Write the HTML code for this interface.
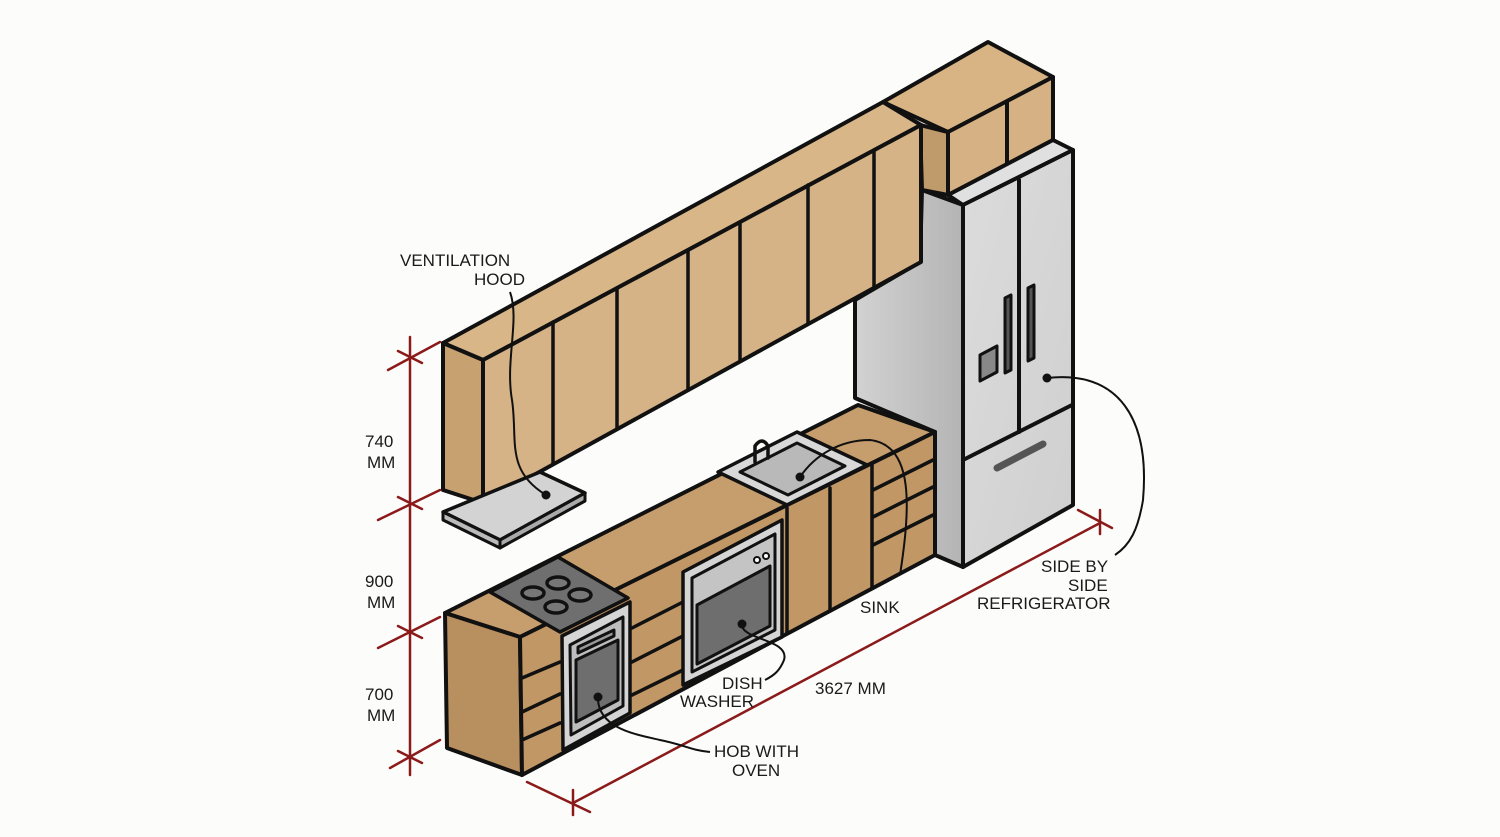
<!DOCTYPE html>
<html><head><meta charset="utf-8"><style>
html,body{margin:0;padding:0;background:#fcfcfa;}
svg{display:block}
text{font-family:"Liberation Sans",sans-serif;font-size:17px;fill:#1a1a1a;}
</style></head><body>
<svg width="1500" height="837" viewBox="0 0 1500 837" xmlns="http://www.w3.org/2000/svg">
<rect width="1500" height="837" fill="#fcfcfa"/>
<defs>
<linearGradient id="gs" x1="0" y1="0" x2="1" y2="0"><stop offset="0" stop-color="#d2d2d2"/><stop offset="1" stop-color="#b4b4b4"/></linearGradient>
<linearGradient id="gf" x1="0" y1="0" x2="1" y2="1"><stop offset="0" stop-color="#dcdcdc"/><stop offset="1" stop-color="#cfcfcf"/></linearGradient>
</defs>
<g stroke="#111" stroke-width="4" stroke-linejoin="round" stroke-linecap="round">
<polygon points="855,300 920,262 922,190 963,205 963,567 935,555 935,432 855,398" fill="url(#gs)"/>
<polygon points="883,102 988,42 1053,77 948,132" fill="#d8b485"/>
<polygon points="920,125 948,132 948,195 922,190" fill="#bf9a6a"/>
<polygon points="948,132 1053,77 1053,140 948,195" fill="#d6b184"/>
<line x1="1007" y1="102" x2="1007" y2="165"/>
<polygon points="948,195 1053,140 1073,150 963,205" fill="#e0e0e0"/>
<polygon points="963,205 1073,150 1073,505 963,567" fill="url(#gf)"/>
<line x1="1019" y1="180" x2="1019" y2="432"/>
<line x1="963" y1="460" x2="1072" y2="405"/>
<path d="M1005,298 L1011,295 L1011,370 L1005,373 Z" fill="#555" stroke-width="3"/>
<path d="M1028,288 L1034,285 L1034,358 L1028,361 Z" fill="#555" stroke-width="3"/>
<path d="M980,355 L997,346 L997,372 L980,381 Z" fill="#888" stroke-width="3"/>
<path d="M997,468 L1043,444" stroke="#555" stroke-width="7"/>
<polygon points="443,343 883,102 921,125 483,360" fill="#d9b688"/>
<polygon points="443,343 483,360 483,503 443,490" fill="#c8a170"/>
<polygon points="483,360 921,125 921,262 483,503" fill="#d6b386"/>
<g stroke-width="3.5">
<line x1="553" y1="322" x2="553" y2="464"/>
<line x1="617" y1="288" x2="617" y2="429"/>
<line x1="688" y1="250" x2="688" y2="390"/>
<line x1="740" y1="222" x2="740" y2="361"/>
<line x1="808" y1="185" x2="808" y2="324"/>
<line x1="874" y1="150" x2="874" y2="288"/>
</g>
<polygon points="443,512 540,472 585,493 500,540" fill="#d3d3d3" stroke-width="3.5"/>
<polygon points="443,512 500,540 500,548 443,520" fill="#bbb" stroke-width="3"/>
<polygon points="500,540 585,493 585,501 500,548" fill="#aaa" stroke-width="3"/>
<polygon points="445,613 858,405 935,432 520,637" fill="#c69d6d"/>
<polygon points="445,613 520,637 522,775 447,748" fill="#b88f5f"/>
<polygon points="520,637 935,432 935,555 522,775" fill="#c29766"/>
<polygon points="490,592 558,557 628,598 560,632" fill="#6f6f6f" stroke-width="3.5"/>
<g fill="#777" stroke-width="3.5"><ellipse cx="558" cy="583" rx="11" ry="6"/><ellipse cx="580" cy="595" rx="11" ry="6"/><ellipse cx="556" cy="607" rx="11" ry="6"/><ellipse cx="533" cy="593" rx="11" ry="6"/></g>
<polygon points="562,636 630,602 630,713 563,750" fill="#d5d5d5" stroke-width="3.5"/>
<polygon points="570,645 623,617 623,706 571,735" fill="#bdbdbd" stroke-width="3"/>
<polygon points="578,647 614,630 614,636 578,653" fill="#999" stroke-width="3"/>
<polygon points="576,660 618,640 618,700 576,722" fill="#6e6e6e" stroke-width="3"/>
<g stroke-width="3.5">
<line x1="522" y1="678" x2="560" y2="662"/><line x1="522" y1="712" x2="560" y2="694"/><line x1="522" y1="740" x2="560" y2="723"/>
<line x1="632" y1="628" x2="683" y2="602"/><line x1="632" y1="662" x2="683" y2="636"/><line x1="632" y1="695" x2="683" y2="670"/>
</g>
<polygon points="683,572 782,520 782,637 683,685" fill="#d5d5d5" stroke-width="3.5"/>
<polygon points="692,578 775,534 775,630 692,672" fill="#c4c4c4" stroke-width="3"/>
<polygon points="697,605 770,566 770,626 697,664" fill="#6e6e6e" stroke-width="3"/>
<circle cx="757" cy="560" r="3" fill="#fff" stroke-width="2"/><circle cx="766" cy="556" r="3" fill="#fff" stroke-width="2"/>
<g stroke-width="3.5">
<line x1="787" y1="508" x2="787" y2="633"/><line x1="830" y1="488" x2="830" y2="611"/><line x1="872" y1="465" x2="872" y2="588"/>
<line x1="873" y1="490" x2="933" y2="460"/><line x1="873" y1="517" x2="933" y2="487"/><line x1="873" y1="545" x2="933" y2="515"/>
</g>
<polygon points="718,472 797,432 867,465 787,505" fill="#d8d8d8" stroke-width="3.5"/>
<polygon points="740,472 797,443 845,466 788,495" fill="#b9b9b9" stroke-width="3"/>
<path d="M755,462 L755,446 Q762,436 768,446 L768,458" fill="none" stroke-width="3.5"/>
</g>
<g stroke="#8b1a1a" stroke-width="2.5" fill="none" stroke-linecap="round">
<line x1="410" y1="337" x2="410" y2="775"/>
<line x1="388" y1="370" x2="440" y2="342"/><line x1="398" y1="351" x2="422" y2="363"/>
<line x1="378" y1="520" x2="440" y2="490"/><line x1="398" y1="497" x2="422" y2="509"/>
<line x1="378" y1="648" x2="440" y2="617"/><line x1="398" y1="626" x2="422" y2="638"/>
<line x1="390" y1="768" x2="440" y2="740"/><line x1="398" y1="751" x2="422" y2="763"/>
<line x1="573" y1="803" x2="1100" y2="523"/>
<line x1="527" y1="782" x2="590" y2="812"/><line x1="573" y1="790" x2="573" y2="815"/>
<line x1="1078" y1="510" x2="1112" y2="528"/><line x1="1100" y1="510" x2="1100" y2="534"/>
</g>
<g stroke="#111" stroke-width="2" fill="none">
<path d="M510,292 C520,320 505,360 512,400 C518,440 505,470 546,495"/>
<path d="M800,477 C815,455 840,440 870,440 C915,445 910,510 900,575"/>
<path d="M1047,378 C1120,370 1150,420 1143,500 C1138,530 1130,545 1115,555"/>
<path d="M742,626 C745,640 790,640 784,660 C780,670 775,675 765,680"/>
<path d="M598,700 C600,730 640,735 660,740 C685,745 690,750 710,752"/>
</g>
<g fill="#111"><circle cx="546" cy="495" r="4.5"/><circle cx="800" cy="477" r="4.5"/><circle cx="1047" cy="378" r="4.5"/><circle cx="742" cy="624" r="4.5"/><circle cx="598" cy="697" r="4.5"/></g>
<text x="400" y="266">VENTILATION</text>
<text x="474" y="285">HOOD</text>
<text x="365" y="447">740</text><text x="367" y="468">MM</text>
<text x="365" y="587">900</text><text x="367" y="608">MM</text>
<text x="365" y="700">700</text><text x="367" y="721">MM</text>
<text x="860" y="613">SINK</text>
<text x="722" y="689">DISH</text><text x="680" y="707">WASHER</text>
<text x="815" y="694">3627 MM</text>
<text x="714" y="757">HOB WITH</text><text x="732" y="776">OVEN</text>
<text x="1041" y="572">SIDE BY</text><text x="1068" y="591">SIDE</text><text x="977" y="609">REFRIGERATOR</text>
</svg>
</body></html>
